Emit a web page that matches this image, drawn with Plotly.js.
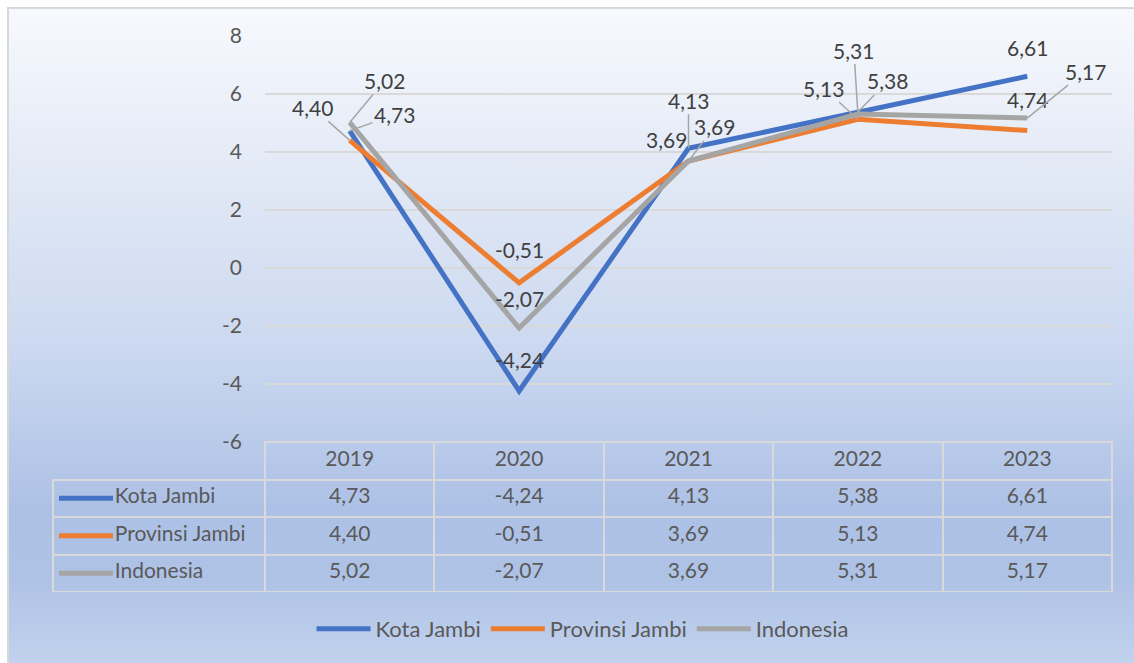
<!DOCTYPE html>
<html><head><meta charset="utf-8">
<script src="https://cdn.plot.ly/plotly-3.0.1.min.js"></script>
<style>
html,body{margin:0;padding:0;background:#fff;width:1134px;height:663px;overflow:hidden}
#bg{position:absolute;left:7px;top:7px;width:1140px;height:670px;border:2px solid #d9d9d9;box-sizing:border-box;
background:linear-gradient(to bottom,#f7f9fd 0%,#e2e9f6 25%,#ccd9f0 50%,#adc1e6 75%,#aec2e6 85%,#c4d4ee 100%)}
#chart{position:absolute;left:0;top:0;width:1134px;height:663px}
</style></head><body><div id="bg"></div><div id="chart"></div>
<script>
const years = ['2019','2020','2021','2022','2023'];
const seriesNames = ['Kota Jambi','Provinsi Jambi','Indonesia'];
const kotaJambi = [4.73, -4.24, 4.13, 5.38, 6.61];
const provinsiJambi = [4.40, -0.51, 3.69, 5.13, 4.74];
const indonesia = [5.02, -2.07, 3.69, 5.31, 5.17];
const yTickVals = [-6, -4, -2, 0, 2, 4, 6, 8];
const yTickText = ['-6', '-4', '-2', '0', '2', '4', '6', '8'];

const seriesData = [kotaJambi, provinsiJambi, indonesia];
const colors = ['#4472C4', '#ED7D31', '#A5A5A5'];
const fmt = v => v.toFixed(2).replace('.', ',');
const FONT = 'Lato, "Open Sans", sans-serif';

// label placement: [ax, ay, leader]
const labelPos = [
  [[45,-16,true],[0,-31,false],[0,-48,true],[30,-31,true],[0,-29,false]],
  [[-37,-33,true],[0,-33,false],[-22,-21,false],[-34,-31,true],[0,-31,false]],
  [[35,-42,true],[0,-30,false],[26,-34,true],[-4,-64,true],[58,-47,true]]
];

// geometry (px)
const W = 1134, H = 663;
const mL = 53, mR = 22, mT = 36, mB = 71;
const plotLeftPx = 265, tableTopPx = 442;
const innerW = W - mL - mR, innerH = H - mT - mB;
const xDom0 = (plotLeftPx - mL) / innerW;
const yDom0 = (H - mB - tableTopPx) / innerH;

const traces = seriesData.map((d, i) => ({
  type: 'scatter', mode: 'lines', x: years, y: d, name: seriesNames[i],
  line: {color: colors[i], width: 5}, hoverinfo: 'skip'
}));

const pad = '\u00a0'.repeat(10);
traces.push({
  type: 'table',
  domain: {x: [0, 1], y: [0, yDom0]},
  columnwidth: [plotLeftPx - mL].concat(years.map(() => (innerW - (plotLeftPx - mL)) / years.length)),
  header: {
    values: [''].concat(years), align: 'center', height: 37.5,
    fill: {color: 'rgba(0,0,0,0)'},
    line: {color: ['rgba(0,0,0,0)'].concat(years.map(() => '#d9d9d9')), width: 2},
    font: {family: FONT, size: 21, color: '#595959'}
  },
  cells: {
    values: [seriesNames.map(n => pad + n.replace(/ /g, '\u00a0'))].concat(years.map((y, j) => seriesData.map(s => fmt(s[j])))),
    align: ['left'].concat(years.map(() => 'center')), height: 37.5,
    fill: {color: 'rgba(0,0,0,0)'},
    line: {color: '#d9d9d9', width: 2},
    font: {family: FONT, size: 21, color: '#595959'}
  },
  hoverinfo: 'skip'
});

const annotations = [];
seriesData.forEach((d, i) => {
  d.forEach((v, j) => {
    const [ax, ay, leader] = labelPos[i][j];
    const a = {x: j, y: v, xref: 'x', yref: 'y', text: fmt(v),
      font: {family: FONT, size: 21, color: '#404040'}};
    if (leader) {
      Object.assign(a, {showarrow: true, ax: ax, ay: ay, arrowhead: 0, arrowwidth: 1.5, arrowcolor: '#a6a6a6', standoff: 0});
    } else {
      Object.assign(a, {showarrow: false, xshift: ax, yshift: -ay});
    }
    annotations.push(a);
  });
});

const rowH = 37.5, headH = 37.5;
const shapes = colors.map((c, i) => {
  const yc = tableTopPx + headH + rowH * (i + 0.5);
  const yp = (H - mB - yc) / innerH;
  return {type: 'line', xref: 'paper', yref: 'paper', x0: 6 / innerW, x1: 60 / innerW, y0: yp, y1: yp,
    line: {color: c, width: 5}};
});

const layout = {
  width: W, height: H,
  margin: {l: mL, r: mR, t: mT, b: mB, pad: 0},
  paper_bgcolor: 'rgba(0,0,0,0)', plot_bgcolor: 'rgba(0,0,0,0)',
  font: {family: FONT, size: 21, color: '#595959'},
  showlegend: true,
  legend: {orientation: 'h', x: 0.5, xanchor: 'center', y: (H - mB - 629) / innerH, yanchor: 'middle',
    itemwidth: 54, tracegroupgap: 0, font: {family: FONT, size: 22, color: '#595959'}, bgcolor: 'rgba(0,0,0,0)'},
  xaxis: {domain: [xDom0, 1], type: 'category', range: [-0.5, 4.5], showgrid: false, showticklabels: false,
    zeroline: false, showline: false, ticks: ''},
  yaxis: {domain: [yDom0, 1], range: [-6, 8], tickmode: 'array', tickvals: yTickVals, ticktext: yTickText,
    showgrid: true, gridcolor: '#d9d9d9', gridwidth: 2, zeroline: false, showline: false, ticks: '',
    ticklabelstandoff: 22, tickfont: {family: FONT, size: 21, color: '#595959'}},
  annotations: annotations,
  shapes: shapes,
  hovermode: false
};

Plotly.newPlot('chart', traces, layout, {displayModeBar: false, staticPlot: true});
</script></body></html>
